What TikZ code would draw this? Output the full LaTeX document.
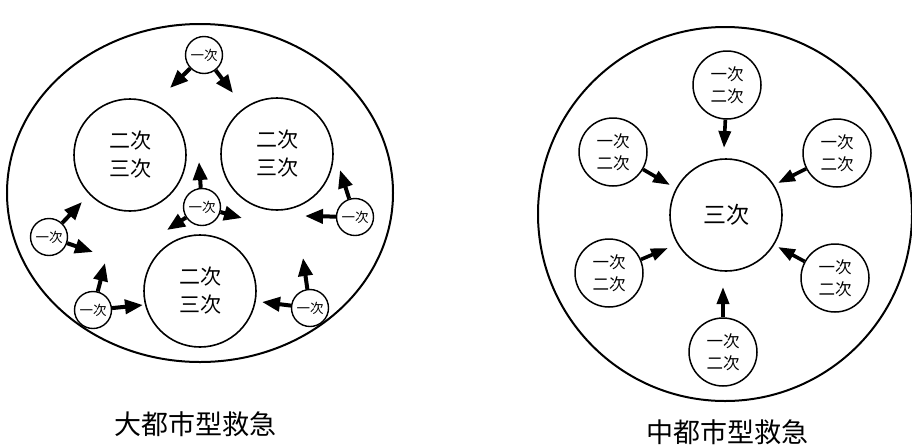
\documentclass[tikz,border=0pt]{standalone}
\usepackage{fontspec}
\setmainfont{Noto Sans CJK JP}
\usetikzlibrary{arrows.meta}
\tikzset{
  bigc/.style={draw, line width=1.6pt, circle, inner sep=0pt, minimum size=112pt, align=center, font=\fontsize{21pt}{28pt}\selectfont},
  smallc/.style={draw, line width=1.4pt, circle, inner sep=0pt, minimum size=37pt, font=\fontsize{13.5pt}{14pt}\selectfont},
  midc/.style={draw, line width=1.5pt, circle, inner sep=0pt, minimum size=68pt, align=center, font=\fontsize{16.5pt}{22pt}\selectfont},
  fat/.style={line width=4pt, -{Triangle[length=18pt,width=14pt]}},
  fatr/.style={line width=3.6pt, -{Triangle[length=17pt,width=12pt]}},
  captext/.style={font=\fontsize{27pt}{30pt}\selectfont}
}
\begin{document}
\begin{tikzpicture}[x=1pt,y=-1pt]
\useasboundingbox (0,0) rectangle (912,445);
% ---------- left ----------
\draw[line width=2pt] (200,193) ellipse [x radius=193, y radius=169];
\node[bigc] (A) at (130,155) {二次\\三次};
\node[bigc] (B) at (277,154) {二次\\三次};
\node[bigc] (C) at (200,291) {二次\\三次};
\node[smallc] (s1) at (204,55) {一次};
\node[smallc] (s2) at (202,207) {一次};
\node[smallc] (s3) at (355,217) {一次};
\node[smallc] (s4) at (49,237) {一次};
\node[smallc] (s5) at (93,310) {一次};
\node[smallc] (s6) at (310,308) {一次};
\coordinate (a1) at (170,88);
\coordinate (a2) at (233,93);
\coordinate (a3) at (199,162);
\coordinate (a4) at (167,230);
\coordinate (a5) at (242,218);
\coordinate (a6) at (340,170);
\coordinate (a7) at (305,216);
\coordinate (a8) at (82,202);
\coordinate (a9) at (93,252);
\coordinate (a10) at (105,263);
\coordinate (a11) at (143,305);
\coordinate (a12) at (303,258);
\coordinate (a13) at (262,302);
\draw[fat] (s1) -- (a1);
\draw[fat] (s1) -- (a2);
\draw[fat] (s2) -- (a3);
\draw[fat] (s2) -- (a4);
\draw[fat] (s2) -- (a5);
\draw[fat] (s3) -- (a6);
\draw[fat] (s3) -- (a7);
\draw[fat] (s4) -- (a8);
\draw[fat] (s4) -- (a9);
\draw[fat] (s5) -- (a10);
\draw[fat] (s5) -- (a11);
\draw[fat] (s6) -- (a12);
\draw[fat] (s6) -- (a13);
\node[captext] (L) at (195,424) {大都市型救急};
% ---------- right ----------
\node[draw, line width=2pt, circle, inner sep=0pt, minimum size=374pt] (R) at (725,214) {};
\node[bigc, font=\fontsize{23pt}{24pt}\selectfont] (c) at (726,215) {三次};
\node[midc] (t1) at (727,85) {一次\\二次};
\node[midc] (t2) at (613,152) {一次\\二次};
\node[midc] (t3) at (837,153) {一次\\二次};
\node[midc] (t4) at (609,273) {一次\\二次};
\node[midc] (t5) at (835,278) {一次\\二次};
\node[midc] (t6) at (723,352) {一次\\二次};
\coordinate (b1) at (724,148);
\coordinate (b2) at (670,185);
\coordinate (b3) at (778,183);
\coordinate (b4) at (668,248);
\coordinate (b5) at (778,247);
\coordinate (b6) at (723,287);
\draw[fatr] (t1) -- (b1);
\draw[fatr] (t2) -- (b2);
\draw[fatr] (t3) -- (b3);
\draw[fatr] (t4) -- (b4);
\draw[fatr] (t5) -- (b5);
\draw[fatr] (t6) -- (b6);
\node[captext] (M) at (727,432) {中都市型救急};
\end{tikzpicture}
\end{document}
